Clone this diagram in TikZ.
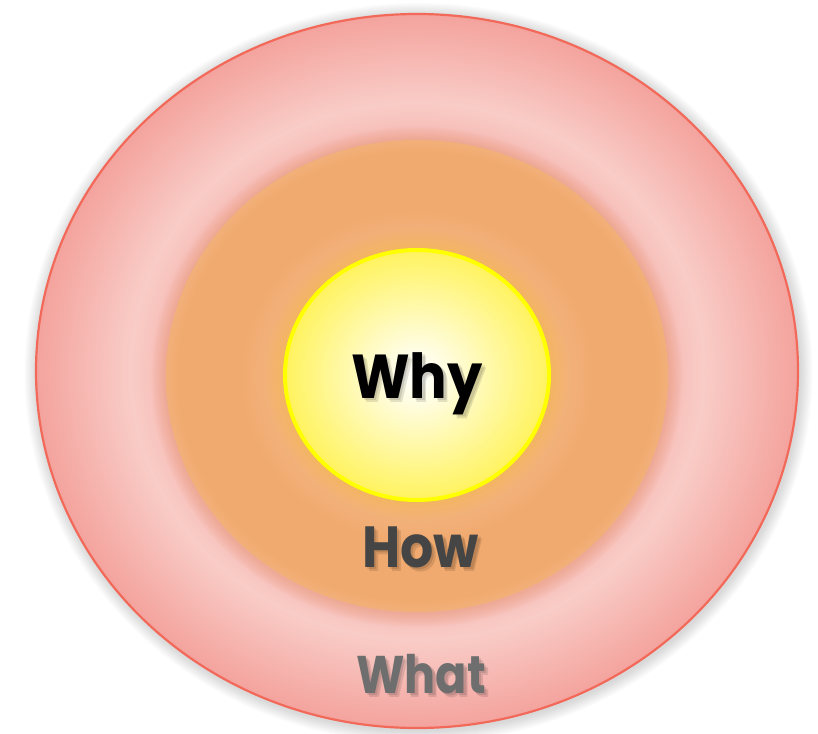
\documentclass[tikz,border=0pt]{standalone}
\usepackage{fontspec}
\usetikzlibrary{shapes.geometric}
\setmainfont{Poppins}[BoldFont={* Bold}]
\newfontfamily\wordfont{Poppins Bold}
\definecolor{outerstroke}{HTML}{F2695A}
\definecolor{pinkD}{HTML}{F4A39D}
\definecolor{pinkL}{HTML}{F9CCC7}
\definecolor{pinkM}{HTML}{F6B8B1}
\definecolor{orangeM}{HTML}{F0A96E}
\definecolor{orangeL}{HTML}{F3B47F}
\definecolor{yelE}{HTML}{FFF35E}
\definecolor{yelB}{HTML}{FFFF00}
\definecolor{howc}{HTML}{454545}
\definecolor{whatc}{HTML}{6E6E6E}
\definecolor{midshadow}{HTML}{E08A5E}
\pgfdeclareradialshading{ringshade}{\pgfpoint{0bp}{0bp}}{%
  color(0bp)=(pinkM); color(16bp)=(pinkM); color(18.8bp)=(pinkL); color(25bp)=(pinkD); color(50bp)=(pinkD)}
\pgfdeclareradialshading{midshade}{\pgfpoint{0bp}{0bp}}{%
  color(0bp)=(orangeL); color(14bp)=(orangeL); color(18bp)=(orangeM); color(23.5bp)=(orangeM); color(25bp)=(orangeL!60!orangeM); color(50bp)=(orangeL!60!orangeM)}
\pgfdeclareradialshading{yelshade}{\pgfpoint{0bp}{0bp}}{%
  color(0bp)=(white); color(6bp)=(white!80!yelE); color(25bp)=(yelE); color(50bp)=(yelE)}
\tikzset{
  word/.style={font=\wordfont, anchor=base, inner sep=0pt},
}
\newcommand{\shlayer}[3]{\rlap{\kern#1pt\raisebox{-#2pt}{#3}}}
\newcommand{\shadowtext}[6]{% name, pos, size, color, hscale, text
  \node[word, font=\wordfont\fontsize{#3}{#3}\selectfont] (#1) at (#2) {%
    {\begin{pgfscope}\pgfsetfillopacity{0.11}\color{black}%
      \shlayer{2.5}{2.5}{\scalebox{#5}[1]{#6}}%
      \shlayer{4}{4}{\scalebox{#5}[1]{#6}}%
    \end{pgfscope}}%
    {\color{#4}\scalebox{#5}[1]{#6}}};
}
\begin{document}
\begin{tikzpicture}[x=1pt,y=-1pt]
\useasboundingbox (0,0) rectangle (818,733);
\coordinate (c) at (417,371);
% outer glow
\foreach \i in {1,...,10}{
  \fill[black, opacity=0.015] ([shift={(1.5,2)}]c) ellipse ({381+\i*1.3} and {357+\i*1.3});
}
% outer ring
\node[ellipse, minimum width=762pt, minimum height=714pt, inner sep=0pt, shading=ringshade, draw=outerstroke, line width=2.2pt] (outer) at (c) {};
% shadow of middle
\foreach \i in {1,...,9}{
  \fill[midshadow, opacity=0.045] (417,377) ellipse ({251+\i*1.6} and {236+\i*1.6});
}
\node[ellipse, minimum width=502pt, minimum height=472pt, inner sep=0pt, shading=midshade] (mid) at (417,376) {};
% glow of inner
\foreach \i in {1,...,8}{
  \fill[yellow!60!orange, opacity=0.03] (417,375) ellipse ({132+\i*2.5} and {125+\i*2.5});
}
\node[ellipse, minimum width=264pt, minimum height=250pt, inner sep=0pt, shading=yelshade, draw=yelB, line width=4pt] (inner) at (417,375) {};
% texts
\coordinate (whyp) at (417,398);
\coordinate (howp) at (420.5,567);
\coordinate (whatp) at (421,693);
\shadowtext{why}{whyp}{62}{black}{0.9}{Why}
\shadowtext{how}{howp}{58}{howc}{0.9}{How}
\shadowtext{what}{whatp}{53}{whatc}{0.87}{What}
\end{tikzpicture}
\end{document}
